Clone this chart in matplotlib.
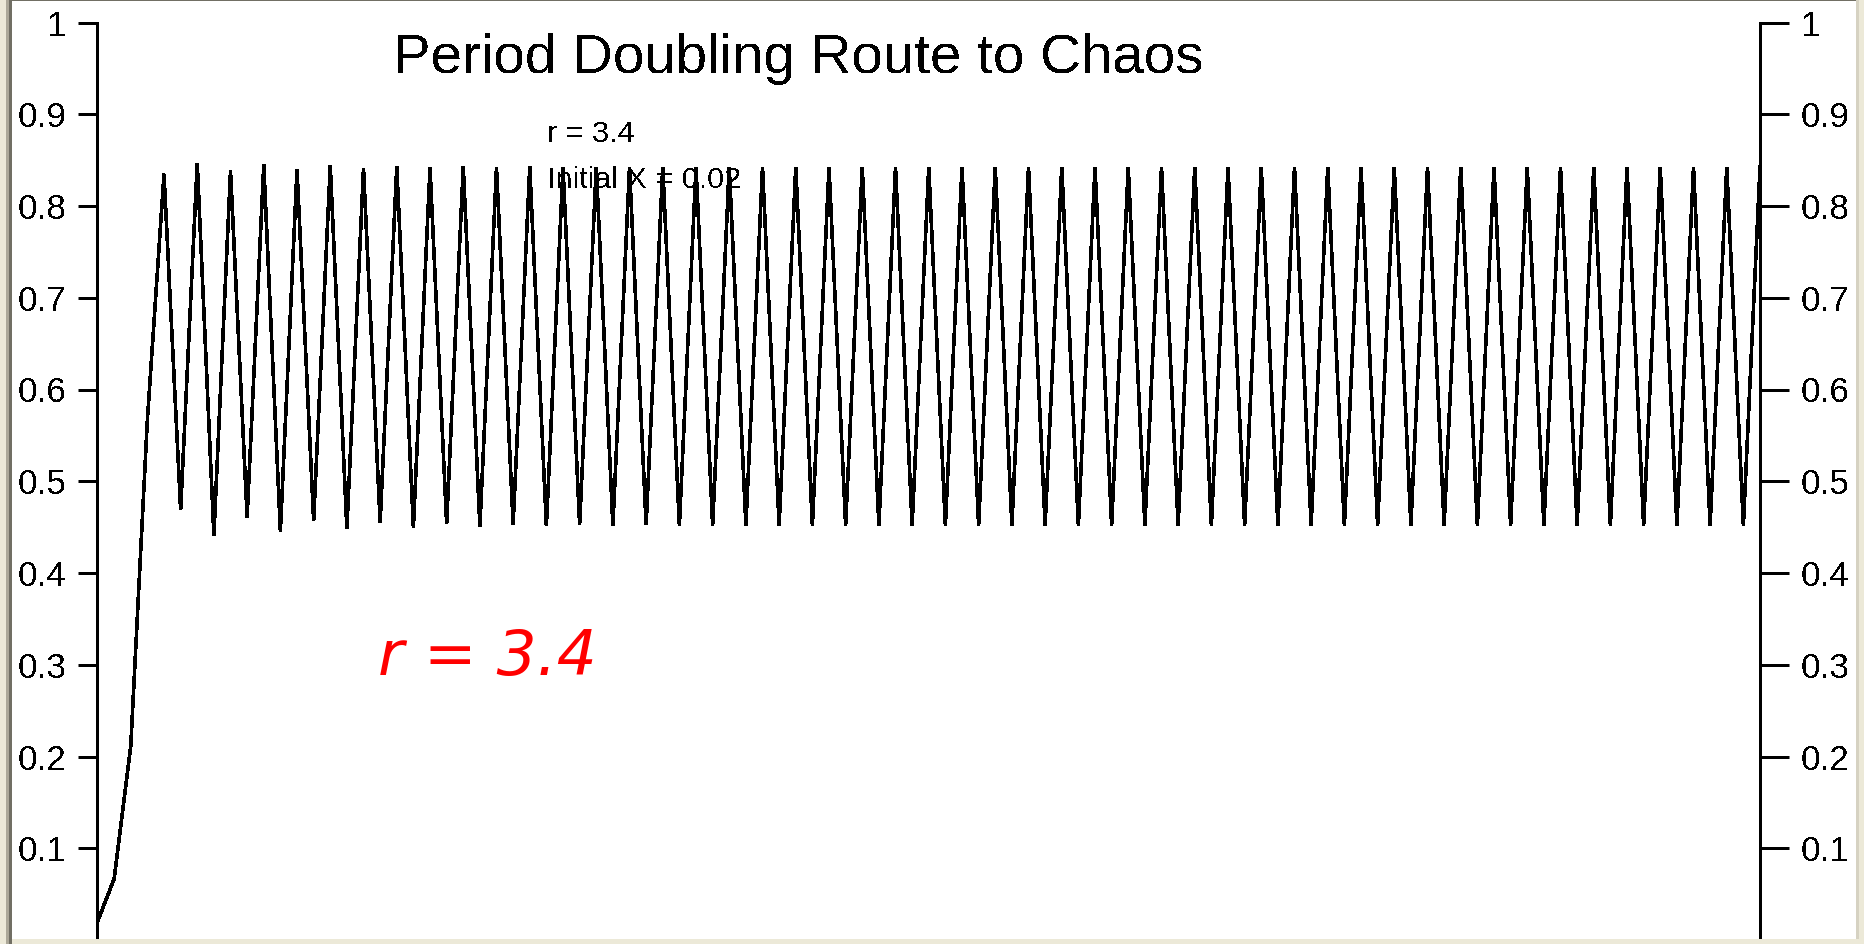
import matplotlib
matplotlib.use('Agg')
import matplotlib.pyplot as plt
from matplotlib.patches import Rectangle

# ---- data ----
iterations = list(range(101))
x_values = [
    0.0200, 0.0666, 0.2115, 0.5670, 0.8348, 0.4690, 0.8467, 0.4412, 0.8383, 0.4610,
    0.8448, 0.4457, 0.8400, 0.4570, 0.8437, 0.4484, 0.8410, 0.4550, 0.8431, 0.4500,
    0.8415, 0.4537, 0.8427, 0.4509, 0.8418, 0.4531, 0.8425, 0.4514, 0.8420, 0.4527,
    0.8423, 0.4518, 0.8421, 0.4524, 0.8422, 0.4519, 0.8422, 0.4522, 0.8421, 0.4520,
    0.8422, 0.4521, 0.8422, 0.4521, 0.8422, 0.4521, 0.8422, 0.4521, 0.8422, 0.4521,
    0.8422, 0.4521, 0.8422, 0.4521, 0.8422, 0.4521, 0.8422, 0.4521, 0.8422, 0.4521,
    0.8422, 0.4521, 0.8422, 0.4521, 0.8422, 0.4521, 0.8422, 0.4521, 0.8422, 0.4521,
    0.8422, 0.4521, 0.8422, 0.4521, 0.8422, 0.4521, 0.8422, 0.4521, 0.8422, 0.4521,
    0.8422, 0.4521, 0.8422, 0.4521, 0.8422, 0.4521, 0.8422, 0.4521, 0.8422, 0.4521,
    0.8422, 0.4521, 0.8422, 0.4521, 0.8422, 0.4521, 0.8422, 0.4521, 0.8422, 0.4521,
    0.8422,
]
y_ticks = [0.1, 0.2, 0.3, 0.4, 0.5, 0.6, 0.7, 0.8, 0.9, 1.0]
y_tick_labels = ['0.1', '0.2', '0.3', '0.4', '0.5', '0.6', '0.7', '0.8', '0.9', '1']
title_text = 'Period Doubling Route to Chaos'
param_lines = ['r = 3.4', 'Initial X = 0.02']
big_label = 'r = 3.4'

# ---- figure ----
W, H = 1865, 944
plt.rcParams['text.antialiased'] = False
plt.rcParams['font.family'] = ['Liberation Sans', 'DejaVu Sans']

fig = plt.figure(figsize=(W / 100, H / 100), dpi=100)
fig.patch.set_facecolor('white')

def px(v):
    return v * 72 / 100.0

left_px, right_px, top_px, bottom_px = 97.5, 1760.0, 22.5, 940.0
ax = fig.add_axes([left_px / W, (H - bottom_px) / H,
                   (right_px - left_px) / W, (bottom_px - top_px) / H])
ax.set_facecolor('white')
ax.plot(iterations, x_values, color='black', lw=px(2.6), antialiased=False,
        solid_joinstyle='miter')
ax.set_xlim(0, 100)
ax.set_ylim(0, 1)
ax.xaxis.set_visible(False)
for s in ['top', 'bottom']:
    ax.spines[s].set_visible(False)
for s in ['left', 'right']:
    ax.spines[s].set_linewidth(px(3))
    ax.spines[s].set_antialiased(False)
    ax.spines[s].set_color('black')

ax.set_yticks(y_ticks)
ax.set_yticklabels(y_tick_labels)
ax.tick_params(axis='y', left=True, right=False, labelleft=True, labelright=False,
               length=px(19), width=px(3), pad=px(12), labelsize=px(35),
               colors='black', direction='out')

ax2 = ax.twinx()
ax2.set_ylim(0, 1)
for s in ax2.spines.values():
    s.set_visible(False)
ax2.set_yticks(y_ticks)
ax2.set_yticklabels(y_tick_labels)
ax2.tick_params(axis='y', left=False, right=True, labelleft=False, labelright=True,
                length=px(29), width=px(3), pad=px(12), labelsize=px(35),
                colors='black', direction='out')
for t in ax.get_yticklines() + ax2.get_yticklines():
    t.set_antialiased(False)

# ---- texts ----
fig.text(798 / W, 1 - 73 / H, title_text, ha='center', va='baseline',
         fontsize=px(56.5), color='black', antialiased=False)
fig.text(547 / W, 1 - 142 / H, param_lines[0], ha='left', va='baseline',
         fontsize=px(30.5), color='black', antialiased=False)
fig.text(547 / W, 1 - 188 / H, param_lines[1], ha='left', va='baseline',
         fontsize=px(30.5), color='black', antialiased=False)
fig.text(378 / W, 1 - 675 / H, big_label, ha='left', va='baseline',
         fontsize=px(63), color='#ff0000', style='italic',
         family='DejaVu Sans', antialiased=True)

# ---- window frame ----
def rect(x0, y0, w, h, color):
    fig.add_artist(Rectangle((x0 / W, 1 - (y0 + h) / H), w / W, h / H,
                             transform=fig.transFigure, facecolor=color,
                             edgecolor='none', zorder=20))

rect(0, 0, 6, H, '#ECE9D8')
rect(6, 0, 3, H, '#ACA899')
rect(9, 0, 3, H, '#716F64')
rect(12, 0, 1845, 1.2, '#716F64')
rect(1856, 0, 3, H, '#D6D2C2')
rect(1859, 0, 6, H, '#ECE9D8')
rect(12, 939, 1853, 5, '#ECE9D8')

fig.savefig('out.png', dpi=100, facecolor='white')
